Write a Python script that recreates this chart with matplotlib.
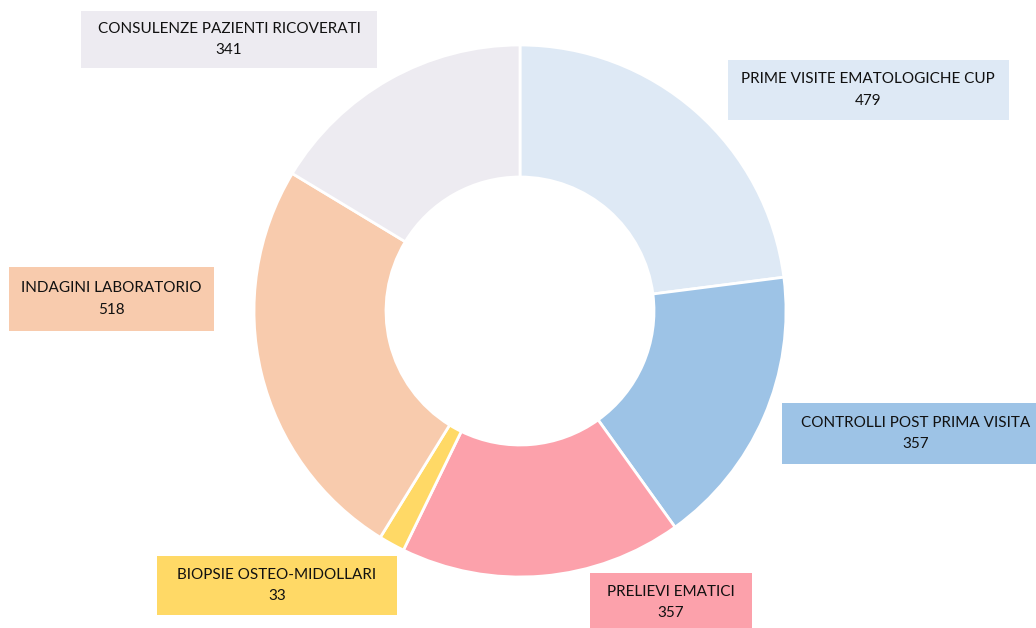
import matplotlib
matplotlib.use("Agg")
from matplotlib import pyplot as plt
from matplotlib import patches

categories = ["PRIME VISITE EMATOLOGICHE CUP", "CONTROLLI POST PRIMA VISITA",
              "PRELIEVI EMATICI", "BIOPSIE OSTEO-MIDOLLARI",
              "INDAGINI LABORATORIO", "CONSULENZE PAZIENTI RICOVERATI"]
values = [479, 357, 357, 33, 518, 341]
colours = ["#DEE9F5", "#9DC3E6", "#FCA1AB", "#FFD966", "#F8CBAD", "#EDEBF1"]

W, H = 1036, 628
# label boxes in pixel coords (left, top, right, bottom), y measured from top
boxes = [(728, 60, 1009, 120), (782, 403, 1050, 464), (590, 573, 752, 632),
         (157, 556, 397, 615), (9, 267, 214, 331), (81, 11, 377, 68)]
text_x = [868, 916, 671, 277, 111, 229]

fig = plt.figure(figsize=(W / 100, H / 100), dpi=100)
ax = fig.add_axes([0, 0, 1, 1])

ax.pie(values, colors=colours, startangle=90, counterclock=False,
       center=(520, H - 311), radius=266, frame=True,
       wedgeprops=dict(width=132, edgecolor="white", linewidth=2))
ax.set_xlim(0, W)
ax.set_ylim(0, H)
ax.set_aspect("equal")
ax.axis("off")

for cat, val, col, (l, t, r, b), tx in zip(categories, values, colours, boxes, text_x):
    ax.add_patch(patches.Rectangle((l, H - b), r - l, b - t, facecolor=col,
                                   edgecolor="none", zorder=3))
    ax.text(tx, H - (t + b) / 2, f"{cat}\n{val}", ha="center", va="center",
            multialignment="center", fontsize=11, family="Lato",
            color="#111111", linespacing=1.65, zorder=4)

fig.savefig("out.png", dpi=100)
